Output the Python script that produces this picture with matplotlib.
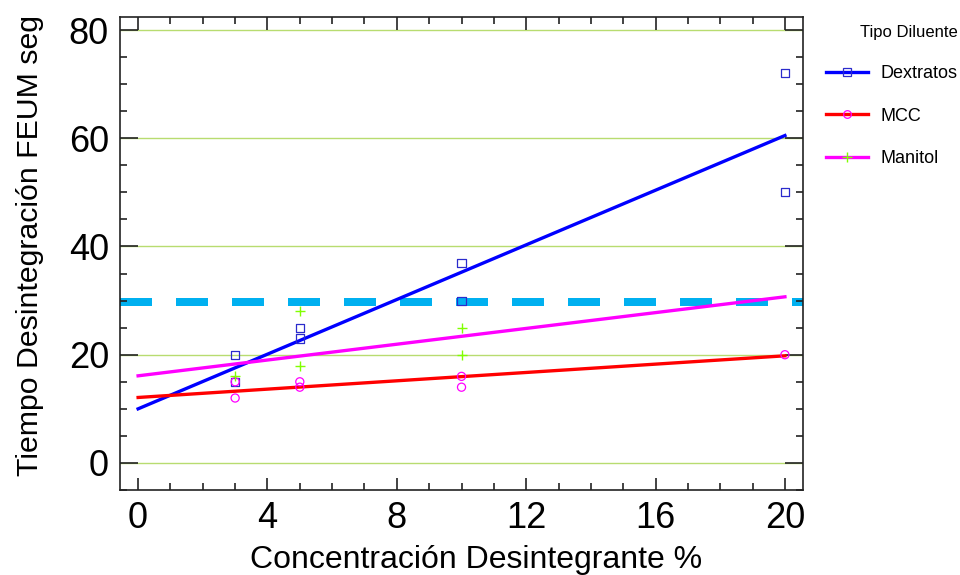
import matplotlib
matplotlib.use("Agg")
import matplotlib.pyplot as plt
from matplotlib.lines import Line2D
from matplotlib.ticker import MultipleLocator

plt.rcParams['font.family'] = ['Liberation Sans', 'DejaVu Sans']

# Observed data
dex_x = [3, 3, 5, 5, 10, 10, 20, 20]
dex_y = [20, 15, 25, 23, 37, 30, 72, 50]
mcc_x = [3, 3, 5, 5, 10, 10, 20]
mcc_y = [15, 12, 15, 14, 16, 14, 20]
man_x = [3, 5, 5, 10, 10]
man_y = [16, 28, 18, 25, 20]

# Fitted lines
fit_x = [0, 20]
dex_fit = [10.0, 60.5]
mcc_fit = [12.1, 19.8]
man_fit = [16.1, 30.7]

ref_level = 29.7

labels = ['Dextratos', 'MCC', 'Manitol']
line_colors = ['#0000ff', '#ff0000', '#ff00ff']
marker_colors = ['#2b2bcc', '#ff00ff', '#80ff00']
markers = ['s', 'o', '+']

xticks = [0, 4, 8, 12, 16, 20]
yticks = [0, 20, 40, 60, 80]

fig = plt.figure(figsize=(9.6, 5.75), dpi=100)
ax = fig.add_axes([0.125, 0.1478, 0.7115, 0.8226])

ax.set_xlim(-0.56, 20.56)
ax.set_ylim(-5.0, 82.4)

for y in yticks:
    ax.axhline(y, color='#b8dc70', lw=1.0, zorder=0)

ax.axhline(ref_level, color='#00b0f0', lw=5.76, dashes=(4.0, 3.0),
           solid_capstyle='butt', dash_capstyle='butt', zorder=1)

series = [(dex_x, dex_y, dex_fit), (mcc_x, mcc_y, mcc_fit), (man_x, man_y, man_fit)]
for (xs, ys, fit), lc, mc, m in zip(series, line_colors, marker_colors, markers):
    ax.plot(fit_x, fit, color=lc, lw=2.4, zorder=3)
    if m == '+':
        ax.scatter(xs, ys, marker='+', color=mc, s=45, lw=1.0, zorder=4)
    else:
        ax.scatter(xs, ys, marker=m, facecolors='none', edgecolors=mc, s=34, lw=0.9, zorder=4)

ax.set_xticks(xticks)
ax.set_yticks(yticks)
ax.xaxis.set_minor_locator(MultipleLocator(1))
ax.yaxis.set_minor_locator(MultipleLocator(5))
ax.tick_params(which='both', direction='in', top=True, right=True, width=1.2, color='#222222')
ax.tick_params(which='major', length=9, labelsize=26, pad=8)
ax.tick_params(which='minor', length=5)
ax.tick_params(axis='y', which='major', length=13)
for s in ax.spines.values():
    s.set_linewidth(1.2)
    s.set_color('#222222')

ax.set_xlabel('Concentración Desintegrante %', fontsize=23)
ax.xaxis.set_label_coords(0.521, -0.116)
ax.set_ylabel('Tiempo Desintegración FEUM seg', fontsize=21.8)
ax.yaxis.set_label_coords(-0.111, 0.518)

handles = []
for lab, lc, mc, m in zip(labels, line_colors, marker_colors, markers):
    if m == '+':
        h = Line2D([], [], color=lc, lw=2.4, marker='+', markersize=7, markeredgecolor=mc, mew=1.0)
    else:
        h = Line2D([], [], color=lc, lw=2.4, marker=m, markersize=5.5, markerfacecolor='none',
                   markeredgecolor=mc, mew=0.9)
    handles.append(h)
leg = fig.legend(handles, labels, title='Tipo Diluente', loc='upper left',
                 bbox_to_anchor=(0.853, 0.969), frameon=False, fontsize=13,
                 title_fontsize=12, handlelength=2.3, handletextpad=0.7,
                 labelspacing=1.4, borderaxespad=0)
leg._legend_box.align = 'right'

fig.savefig('out.png', dpi=100)
